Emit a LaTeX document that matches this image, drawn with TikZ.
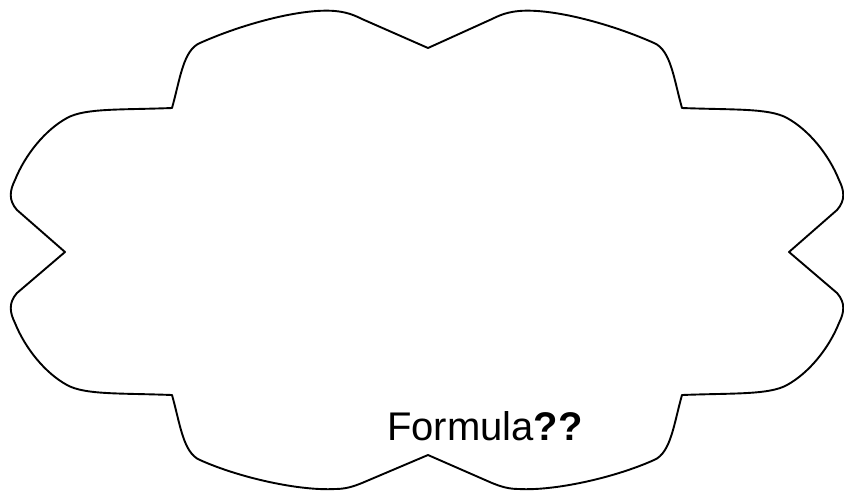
\documentclass[tikz,border=0pt]{standalone}
\usepackage{fontspec}
\setmainfont{Liberation Sans}
\begin{document}
\begin{tikzpicture}[x=1pt,y=-1pt,
  cloudline/.style={draw=black,line width=1.9pt,line join=round},
  labeltext/.style={font=\fontsize{40}{48}\selectfont,inner sep=0pt,anchor=base west}]
\useasboundingbox (0,0) rectangle (844,491);
\path[cloudline] (65,252) -- (17,210) .. controls (8,200) and (10,190) .. (15,180)
  .. controls (25,155) and (45,130) .. (67,118)
  .. controls (85,108) and (120,110) .. (172,108)
  .. controls (180,80) and (183,50) .. (200,43)
  .. controls (240,25) and (300,8) .. (335,11)
  .. controls (345,12) and (352,14) .. (362,19) -- (428,48)
  -- (492,19) .. controls (502,14) and (509,12) .. (519,11)
  .. controls (554,8) and (614,25) .. (654,43)
  .. controls (671,50) and (674,80) .. (682,108)
  .. controls (734,110) and (769,108) .. (787,118)
  .. controls (809,130) and (829,155) .. (839,180)
  .. controls (844,190) and (846,200) .. (837,210) -- (789,252)
  -- (837,293) .. controls (846,303) and (844,313) .. (839,323)
  .. controls (829,348) and (809,373) .. (787,385)
  .. controls (769,395) and (734,393) .. (682,395)
  .. controls (674,423) and (671,453) .. (654,460)
  .. controls (614,478) and (554,491) .. (519,489)
  .. controls (509,489) and (502,487) .. (492,483) -- (428,455)
  -- (362,483) .. controls (352,487) and (345,489) .. (335,489)
  .. controls (300,491) and (240,478) .. (200,460)
  .. controls (183,453) and (180,423) .. (172,395)
  .. controls (120,393) and (85,395) .. (67,385)
  .. controls (45,373) and (25,348) .. (15,323)
  .. controls (10,313) and (8,303) .. (17,293) -- cycle;
\node[labeltext] (formula) at (387,440) {Formula\textbf{??}};
\end{tikzpicture}
\end{document}
